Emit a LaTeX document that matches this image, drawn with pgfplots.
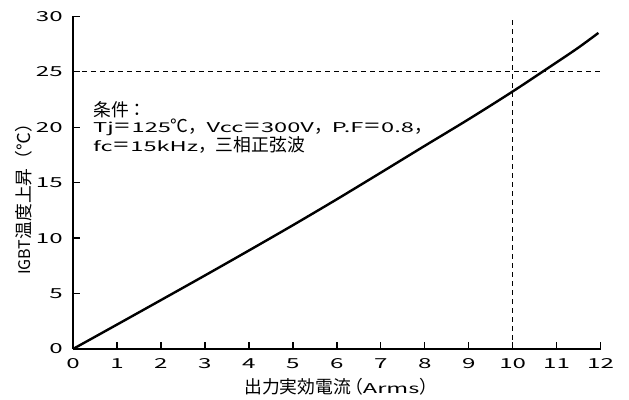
\documentclass[border=0pt]{standalone}
\usepackage{pgfplots}
\pgfplotsset{compat=1.18}
\usepackage{fontspec}
\setmainfont{Noto Sans CJK JP}
% wide Latin letters and digits beside the Japanese text
\newfontfamily\latn[FakeStretch=1.75]{Noto Sans CJK JP}
\newcommand\la[1]{{\latn\fontsize{13.5bp}{19bp}\selectfont #1}}
\newcommand\lc[1]{{\fontsize{16bp}{19bp}\selectfont #1}}
\newcommand\jp{\fontsize{17.8bp}{19bp}\selectfont}

\begin{document}
\begin{tikzpicture}
\begin{axis}[
  anchor=origin, at={(0,0)},
  scale only axis, width=527.6bp, height=332.7bp,
  xmin=0, xmax=12, ymin=0, ymax=30,
  axis x line=bottom, axis y line=left,
  axis line style={-, line width=1.6bp, black},
  xtick={0,1,...,12}, ytick={0,5,...,30},
  tick align=inside, major tick length=7bp,
  tick style={line width=1.4bp, black},
  /pgf/number format/assume math mode=true,
  tick label style={font=\latn\fontsize{13.8bp}{13.8bp}\selectfont, text=black},
  xticklabel style={anchor=base, inner sep=0pt, yshift=-19bp},
  yticklabel style={anchor=east, inner sep=0pt, xshift=-10bp},
  xlabel={\jp 出力実効電流\kern-6bp（\la{Arms}）},
  ylabel={\jp \lc{IGBT}温度上昇（℃）},
  xlabel style={at={([yshift=-44bp]axis description cs:0.5,0)}, anchor=base, inner sep=0pt, xshift=4bp},
  ylabel style={at={([xshift=-49.5bp]axis description cs:0,0.463)}, anchor=center, inner sep=0pt},
  clip=false,
]
% reference lines
\addplot[black, line width=1.2bp, dash pattern=on 5bp off 4bp] coordinates {(0,25) (12,25)};
\addplot[black, line width=1.2bp, dash pattern=on 5bp off 4bp] coordinates {(10,0) (10,29.8)};
% temperature rise vs output current
\addplot[black, line width=2.4bp, smooth] coordinates {
  (0,0) (1,2.20) (2,4.41) (3,6.63) (4,8.88) (5,11.16) (6,13.50)
  (7,15.90) (8,18.32) (9,20.72) (10,23.22) (11,25.85) (11.5,27.19) (11.95,28.50)
};
% operating conditions
\node[anchor=base west, inner sep=0pt] at (axis cs:0.455,21.0) {\jp 条件：};
\node[anchor=base west, inner sep=0pt] at (axis cs:0.455,19.5)
  {\jp \la{Tj}＝\la{125}℃，\la{Vcc}＝\la{300V}，\la{P.F}＝\la{0.8}，};
\node[anchor=base west, inner sep=0pt] at (axis cs:0.455,17.8)
  {\jp \la{fc}＝\la{15kHz}，三相正弦波};
\end{axis}
\pgfresetboundingbox
\path[use as bounding box] (-73bp,-51bp) rectangle (556bp,349bp);
\end{tikzpicture}
\end{document}
